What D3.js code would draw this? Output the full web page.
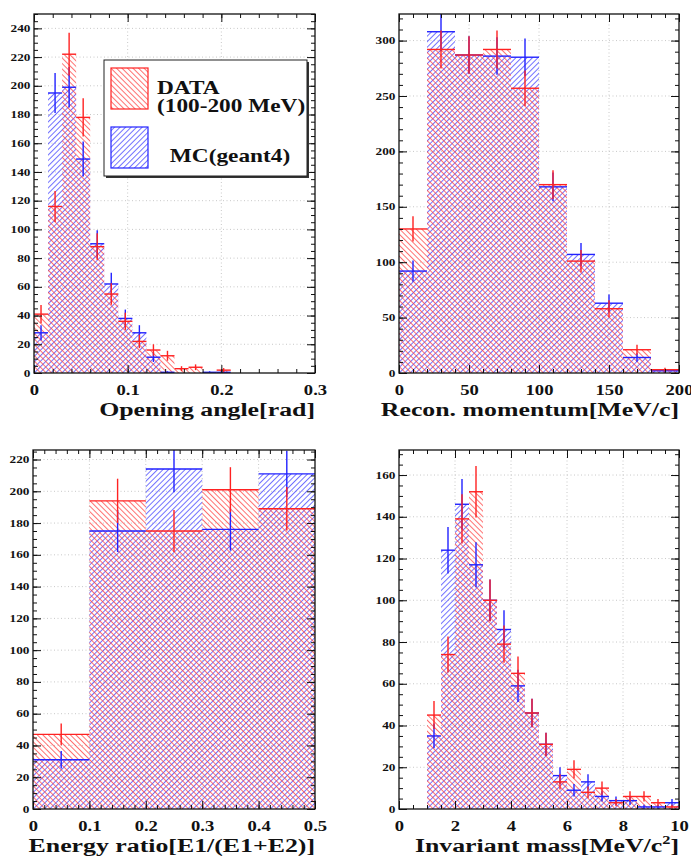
<!DOCTYPE html>
<html>
<head>
<meta charset="utf-8">
<script src="https://cdn.jsdelivr.net/npm/d3@7"></script>
<style>
  body { margin: 0; background: #fff; }
  svg { display: block; }
  text { font-family: "Liberation Serif", "Times New Roman", serif; font-weight: bold; fill: #111; }
</style>
</head>
<body>
<svg id="chart" width="691" height="859"></svg>
<script>
// ---- data (bin edges + counts) ----
const angleEdges = [0, 0.015, 0.03, 0.045, 0.06, 0.075, 0.09, 0.105, 0.12, 0.135, 0.15, 0.165, 0.18, 0.195, 0.21];
const angleData  = [41, 116, 222, 178, 88, 55, 36, 22, 16, 12, 3, 4, 0, 2];
const angleMC    = [28, 195, 199, 149, 90, 62, 38, 28, 11, 0.5, 0, 0, 0.5, 0.5];
const angleXTicks = [0, 0.1, 0.2, 0.3];
const angleYTicks = [0, 20, 40, 60, 80, 100, 120, 140, 160, 180, 200, 220, 240];

const momEdges = [0, 20, 40, 60, 80, 100, 120, 140, 160, 180, 200];
const momData  = [130, 292, 287, 292, 257, 170, 101, 58, 21, 3];
const momMC    = [92, 308, 287, 286, 285, 168, 107, 63, 14, 2];
const momXTicks = [0, 50, 100, 150, 200];
const momYTicks = [0, 50, 100, 150, 200, 250, 300];

const ratioEdges = [0, 0.1, 0.2, 0.3, 0.4, 0.5];
const ratioData  = [47, 194, 175, 201, 189];
const ratioMC    = [31, 175, 214, 176, 211];
const ratioXTicks = [0, 0.1, 0.2, 0.3, 0.4, 0.5];
const ratioYTicks = [0, 20, 40, 60, 80, 100, 120, 140, 160, 180, 200, 220];

const massEdges = [1, 1.5, 2, 2.5, 3, 3.5, 4, 4.5, 5, 5.5, 6, 6.5, 7, 7.5, 8, 8.5, 9, 9.5, 10];
const massData  = [45, 74, 139, 152, 100, 79, 65, 46, 31, 13, 19, 8, 10, 3, 6, 6, 3, 1];
const massMC    = [35, 124, 146, 117, 100, 86, 59, 46, 31, 16, 9, 13, 6, 4, 4, 1, 1, 3];
const massXTicks = [0, 2, 4, 6, 8, 10];
const massYTicks = [0, 20, 40, 60, 80, 100, 120, 140, 160];

const legendLabels = ["DATA", "(100-200 MeV)", "MC(geant4)"];

// ---- look ----
const RED = "#ff2222", BLUE = "#2222ff";
const SX = 1.33; // the original text is stretched horizontally

const svg = d3.select("#chart");
const defs = svg.append("defs");

function hatch(id, color, angle) {
  const p = defs.append("pattern")
    .attr("id", id)
    .attr("patternUnits", "userSpaceOnUse")
    .attr("width", 3.9).attr("height", 3.9)
    .attr("patternTransform", `rotate(${angle})`);
  p.append("line")
    .attr("x1", 0.5).attr("y1", 0).attr("x2", 0.5).attr("y2", 3.9)
    .attr("stroke", color).attr("stroke-width", 1).attr("stroke-opacity", 0.75);
}
hatch("hatchRed", "#ff4040", -45);
hatch("hatchBlue", "#4040ff", 45);

const panels = [
  { id: "p1", left: 34, top: 14, right: 315, bottom: 373, xDomain: [0, 0.3], yMax: 250,
    edges: angleEdges, data: angleData, mc: angleMC, xTicks: angleXTicks, yTicks: angleYTicks,
    xDiv: 5, yDiv: 4, title: "Opening angle[rad]", legend: true },
  { id: "p2", left: 399, top: 14, right: 679, bottom: 373, xDomain: [0, 200], yMax: 324,
    edges: momEdges, data: momData, mc: momMC, xTicks: momXTicks, yTicks: momYTicks,
    xDiv: 5, yDiv: 5, title: "Recon. momentum[MeV/c]" },
  { id: "p3", left: 33, top: 450, right: 315, bottom: 809, xDomain: [0, 0.5], yMax: 226,
    edges: ratioEdges, data: ratioData, mc: ratioMC, xTicks: ratioXTicks, yTicks: ratioYTicks,
    xDiv: 5, yDiv: 4, title: "Energy ratio[E1/(E1+E2)]" },
  { id: "p4", left: 399, top: 450, right: 679, bottom: 809, xDomain: [0, 10], yMax: 172,
    edges: massEdges, data: massData, mc: massMC, xTicks: massXTicks, yTicks: massYTicks,
    xDiv: 4, yDiv: 4, title: "Invariant mass[MeV/c", sup: "2", titleEnd: "]" }
];

function minorTicks(ticks, div, max) {
  const step = (ticks[1] - ticks[0]) / div;
  const out = [];
  for (let v = ticks[0]; v <= max + 1e-9; v += step) out.push(+v.toFixed(6));
  return out;
}

function drawPanel(p) {
  const w = p.right - p.left, h = p.bottom - p.top;
  const g = svg.append("g").attr("transform", `translate(${p.left},${p.top})`);
  const x = d3.scaleLinear().domain(p.xDomain).range([0, w]);
  const y = d3.scaleLinear().domain([0, p.yMax]).range([h, 0]);

  defs.append("clipPath").attr("id", "clip-" + p.id)
    .append("rect").attr("width", w).attr("height", h);

  // grid
  const grid = g.append("g").attr("stroke", "#c8c8c8").attr("stroke-dasharray", "1,2.5");
  grid.selectAll(".gx").data(p.xTicks.slice(1, -1)).join("line")
    .attr("x1", d => x(d)).attr("x2", d => x(d)).attr("y1", 0).attr("y2", h);
  grid.selectAll(".gy").data(p.yTicks.slice(1)).join("line")
    .attr("x1", 0).attr("x2", w).attr("y1", d => y(d)).attr("y2", d => y(d));

  const plot = g.append("g").attr("clip-path", `url(#clip-${p.id})`);
  const bins = (vals) => vals.map((v, i) => ({ v, x0: p.edges[i], x1: p.edges[i + 1] }));

  // hatched histograms
  [[p.mc, "hatchBlue"], [p.data, "hatchRed"]].forEach(([vals, pat]) => {
    plot.append("g").selectAll("rect").data(bins(vals)).join("rect")
      .attr("x", d => x(d.x0)).attr("width", d => x(d.x1) - x(d.x0))
      .attr("y", d => y(d.v)).attr("height", d => h - y(d.v))
      .attr("fill", `url(#${pat})`);
  });

  // error crosses, statistical sqrt(N)
  [[p.mc, BLUE], [p.data, RED]].forEach(([vals, col]) => {
    const eg = plot.append("g").attr("stroke", col).attr("stroke-width", 1.4);
    const b = bins(vals).filter(d => d.v > 0);
    eg.selectAll(".h").data(b).join("line")
      .attr("x1", d => x(d.x0)).attr("x2", d => x(d.x1))
      .attr("y1", d => y(d.v)).attr("y2", d => y(d.v));
    eg.selectAll(".v").data(b).join("line")
      .attr("x1", d => x((d.x0 + d.x1) / 2)).attr("x2", d => x((d.x0 + d.x1) / 2))
      .attr("y1", d => y(d.v - Math.sqrt(d.v))).attr("y2", d => y(d.v + Math.sqrt(d.v)));
  });

  // axes, ROOT style: ticks inward on all four sides
  const xMinor = minorTicks(p.xTicks, p.xDiv, p.xDomain[1]);
  const yMinor = minorTicks(p.yTicks, p.yDiv, p.yMax);
  const fmt = d3.format("~g");
  const styleAxis = (sel) => {
    sel.select(".domain").remove();
    sel.selectAll("line").attr("stroke", "#111").attr("stroke-width", 1);
  };

  g.append("g").call(d3.axisLeft(y).tickValues(yMinor).tickSize(-4).tickFormat("")).call(styleAxis);
  g.append("g").attr("transform", `translate(${w},0)`)
    .call(d3.axisRight(y).tickValues(yMinor).tickSize(-4).tickFormat("")).call(styleAxis);
  g.append("g").attr("transform", `translate(${w},0)`)
    .call(d3.axisRight(y).tickValues(p.yTicks).tickSize(-8).tickFormat("")).call(styleAxis);
  g.append("g").call(d3.axisTop(x).tickValues(xMinor).tickSize(-4).tickFormat("")).call(styleAxis);
  g.append("g").call(d3.axisTop(x).tickValues(p.xTicks).tickSize(-8).tickFormat("")).call(styleAxis);
  g.append("g").attr("transform", `translate(0,${h})`)
    .call(d3.axisBottom(x).tickValues(xMinor).tickSize(-4).tickFormat("")).call(styleAxis);

  const yAx = g.append("g")
    .call(d3.axisLeft(y).tickValues(p.yTicks).tickSize(-8).tickPadding(2.5).tickFormat(fmt))
    .call(styleAxis);
  yAx.selectAll("text").attr("font-size", 9.5).attr("fill", "#111")
    .attr("font-family", '"Liberation Serif", serif').attr("font-weight", "bold")
    .attr("transform", `scale(${SX + 0.07},1)`);

  const xAx = g.append("g").attr("transform", `translate(0,${h})`)
    .call(d3.axisBottom(x).tickValues(p.xTicks).tickSize(-8).tickPadding(12.5).tickFormat(fmt))
    .call(styleAxis);
  xAx.selectAll("text").attr("font-size", 14).attr("fill", "#111")
    .attr("font-family", '"Liberation Serif", serif').attr("font-weight", "bold")
    .attr("transform", `scale(${SX},1)`);

  // frame
  g.append("rect").attr("width", w).attr("height", h)
    .attr("fill", "none").attr("stroke", "#111").attr("stroke-width", 1.3);

  // axis title, right aligned
  const t = g.append("text")
    .attr("transform", `translate(${w},${h + 42.5}) scale(${SX + 0.03},1)`)
    .attr("text-anchor", "end").attr("font-size", 19)
    .text(p.title);
  if (p.sup) {
    t.append("tspan").attr("font-size", 12).attr("dy", -8).text(p.sup);
    t.append("tspan").attr("dy", 8).text(p.titleEnd);
  }

  if (p.legend) drawLegend(g);
}

function drawLegend(g) {
  // legend box in panel pixels
  const lx = 70, ly = 46, lw = 203, lh = 116;
  g.append("rect").attr("x", lx + 2).attr("y", ly + 2).attr("width", lw).attr("height", lh)
    .attr("fill", "#333");
  g.append("rect").attr("x", lx).attr("y", ly).attr("width", lw).attr("height", lh)
    .attr("fill", "#fff").attr("stroke", "#222").attr("stroke-width", 1);

  const sw = [[RED, "hatchRed", 54], [BLUE, "hatchBlue", 113]];
  sw.forEach(([col, pat, sy]) => {
    g.append("rect").attr("x", lx + 7).attr("y", sy).attr("width", 37).attr("height", 41)
      .attr("fill", `url(#${pat})`).attr("stroke", col).attr("stroke-width", 1.2);
  });

  const txt = (s, tx, ty, anchor) => g.append("text")
    .attr("transform", `translate(${tx},${ty}) scale(1.26,1)`)
    .attr("text-anchor", anchor).attr("font-size", 18.5).text(s);
  txt(legendLabels[0], lx + 53, 80, "start");
  txt(legendLabels[1], lx + 53, 98, "start");
  txt(legendLabels[2], lx + 126, 148, "middle");
}

panels.forEach(drawPanel);
</script>
</body>
</html>
